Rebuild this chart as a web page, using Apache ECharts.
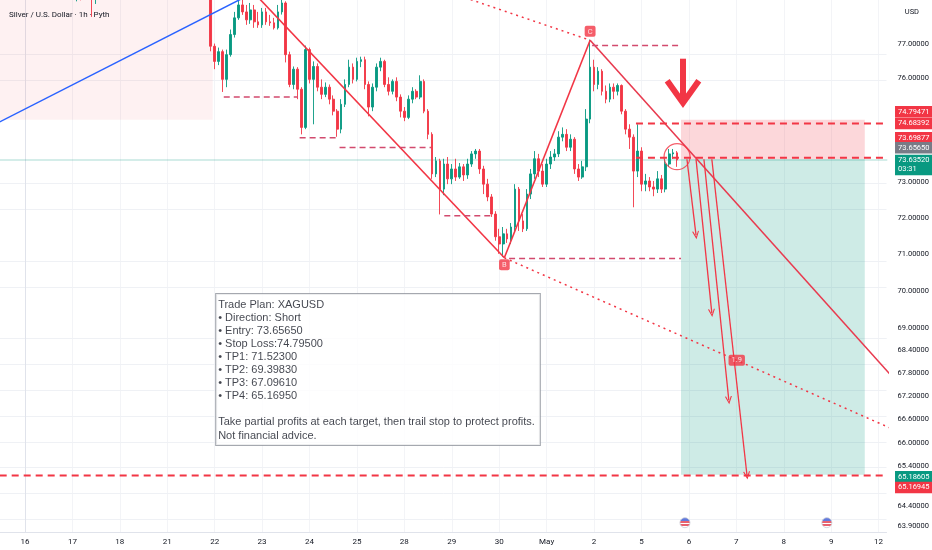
<!DOCTYPE html>
<html><head><meta charset="utf-8">
<script src="https://cdn.jsdelivr.net/npm/echarts@6/dist/echarts.min.js"></script>
<style>html,body{margin:0;padding:0;background:#fff}#c{width:932px;height:550px}</style>
</head><body><div id="c"></div>
<script>
// ---------- data ----------
const chartTitle = 'Silver / U.S. Dollar · 1h · Pyth';
const dayLabels = ['16','17','18','21','22','23','24','25','28','29','30','May','2','5','6','7','8','9','12'];
const slotsPerDay = 12;                 // 2-hour slots per trading day
const priceTicks = [77,76,73,72,71,70,69,68.4,67.8,67.2,66.6,66,65.4,64.4,63.9];

// candles [open, high, low, close]
const earlyStart = 12;
const earlyCandles = [
  [78.70,78.95,78.45,78.60],[78.40,78.85,78.30,78.70],[78.70,78.80,78.33,78.45],
  [78.45,78.90,78.42,78.75],[78.75,79.05,78.60,78.90],[78.90,79.00,77.83,78.50],
  [78.50,78.95,78.22,78.80],[78.80,78.95,78.36,78.60],[78.60,79.00,78.50,78.85]
];
const mainStart = 46;
const mainCandles = [
  [78.55,78.80,78.40,78.70],[78.65,78.75,76.80,76.95],[76.95,77.03,76.27,76.50],[76.50,76.91,76.39,76.79],
  [76.79,76.85,75.60,75.97],[75.97,76.85,75.74,76.70],[76.70,77.45,76.64,77.30],[77.30,77.98,77.21,77.80],
  [77.80,78.40,77.74,78.19],[78.19,78.45,77.89,77.98],[77.98,78.19,77.59,77.74],[77.74,78.25,77.62,78.04],
  [78.04,78.19,77.50,77.68],[77.68,77.98,77.50,77.59],[77.59,78.10,77.50,77.98],[77.98,78.10,77.59,77.68],
  [77.68,77.89,77.56,77.65],[77.65,77.80,77.45,77.50],[77.50,78.19,77.45,77.98],[77.98,78.43,77.90,78.25],
  [78.25,78.30,76.47,76.70],[76.70,76.79,75.74,75.82],[75.82,76.35,75.68,76.27],[76.27,76.33,75.39,75.68],
  [75.68,75.74,74.37,74.57],[74.57,76.97,74.52,76.85],[76.85,76.91,75.85,75.97],[75.97,76.50,74.66,76.35],
  [76.35,76.44,75.62,75.74],[75.74,75.97,75.39,75.53],[75.53,75.88,75.45,75.74],[75.74,75.82,75.24,75.39],
  [75.39,75.50,74.92,75.04],[75.04,75.10,74.30,74.52],[74.52,75.39,74.40,75.24],[75.24,75.97,75.16,75.82],
  [75.82,76.55,75.74,76.33],[76.33,76.44,75.85,75.97],[75.97,76.61,75.91,76.50],[76.50,76.64,76.33,76.55],
  [76.55,76.64,75.68,75.82],[75.82,75.91,74.89,75.16],[75.16,75.85,75.04,75.74],[75.74,76.44,75.62,76.33],
  [76.33,76.61,76.21,76.50],[76.50,76.55,75.74,75.82],[75.82,76.03,75.50,75.62],[75.62,75.97,75.53,75.91],
  [75.91,76.03,75.33,75.45],[75.45,75.53,74.86,75.04],[75.04,75.16,74.75,74.86],[74.86,75.50,74.81,75.39],
  [75.39,75.74,75.27,75.62],[75.62,75.68,75.39,75.45],[75.45,76.09,75.39,75.91],[75.91,75.97,74.98,75.04],
  [75.04,75.10,74.23,74.37],[74.37,74.43,73.10,73.24],[73.24,73.72,73.15,73.61],[73.61,73.67,72.10,72.81],
  [72.81,73.67,72.64,73.52],[73.52,73.72,72.95,73.10],[73.10,73.52,72.95,73.38],[73.38,73.67,73.04,73.15],
  [73.15,73.55,73.10,73.44],[73.44,73.52,73.04,73.21],[73.21,73.67,73.10,73.52],[73.52,73.89,73.44,73.81],
  [73.81,73.95,73.67,73.89],[73.89,73.95,73.24,73.38],[73.38,73.47,72.67,72.95],[72.95,73.10,72.47,72.59],
  [72.59,72.67,72.03,72.11],[72.11,72.19,71.37,71.48],[71.48,71.70,71.01,71.28],[71.28,71.75,70.92,71.56],
  [71.56,71.70,71.31,71.42],[71.42,71.86,71.28,71.75],[71.75,72.95,71.64,72.81],[72.81,72.87,71.64,71.92],
  [71.92,72.11,71.61,71.70],[71.70,72.81,71.64,72.67],[72.67,73.38,72.53,73.24],[73.24,73.89,73.10,73.67],
  [73.67,73.81,73.15,73.32],[73.32,73.52,72.87,72.95],[72.95,73.67,72.87,73.52],[73.52,73.89,73.38,73.72],
  [73.72,73.95,73.61,73.81],[73.81,74.46,73.72,74.29],[74.29,74.57,74.17,74.37],[74.37,74.52,73.89,74.00],
  [74.00,74.37,73.89,74.23],[74.23,74.29,73.24,73.38],[73.38,73.52,73.04,73.15],[73.15,73.61,73.10,73.44],
  [73.44,75.10,73.32,74.81],[74.81,77.15,74.69,76.33],[76.33,76.55,75.62,75.82],[75.82,76.33,75.68,76.21],
  [76.21,76.27,75.50,75.62],[75.62,75.79,75.27,75.39],[75.39,75.85,75.30,75.74],[75.74,75.85,75.39,75.62],
  [75.62,75.85,75.50,75.79],[75.79,75.82,74.95,75.04],[75.04,75.10,74.37,74.52],[74.52,74.66,73.95,74.29],
  [74.29,74.37,72.30,73.32],[73.32,74.66,73.15,73.89],[73.89,74.00,72.75,72.95],[72.95,73.24,72.75,73.04],
  [73.04,73.15,72.75,72.87],[72.87,73.04,72.61,72.81],[72.81,73.32,72.70,73.10],[73.10,73.21,72.70,72.81],
  [72.81,73.67,72.72,73.52],[73.52,73.95,73.44,73.81],[73.81,73.95,73.67,73.84],[73.84,73.89,73.44,73.635]
];

// drawings, points as [slot, price]
const blueLine   = [[-7.6,74.66],[56.8,78.50]];
const channelAB  = [[57.2,78.65],[121.3,70.90]];
const legBC      = [[121.3,70.90],[143.0,77.13]];
const legCD      = [[143.0,77.13],[219.8,67.67]];
const dottedTop  = [[109.9,78.47],[143.0,77.13]];
const dottedB    = [[121.3,70.90],[228.3,65.96]];
const pivotLevels = [ // [price, fromSlot, toSlot]
  [76.97,143.5,166.0],[75.45,50.3,69.0],[74.27,69.5,79.6],[73.99,79.6,102.8],
  [72.06,106.1,118.7],[70.88,122.5,166.0]
];
const tradeLevels = [[74.68392,154.6,218.2],[73.69877,154.6,218.2],[65.16945,-6.4,218.2]];
const position = {from:166.0, to:212.5, entry:73.6565, stop:74.79471, target:65.18605};
const oldZone  = {from:-7, to:47.5, low:74.79471, high:79.5};
const lastPrice = 73.6352;
const tpArrows = [ // [startSlot, endSlot, targetPrice]
  [167.5,169.8,71.523],[169.8,173.8,69.3983],[171.8,178.1,67.0961],[173.8,182.7,65.1695]
];
const bigArrowShaft = [[166.5,76.58],[166.5,75.40]];
const bigArrowHead  = [[162.5,75.93],[166.5,75.28],[170.5,75.93]];
const entryCircle = [165.0,73.73];
const pointC = [143.0,77.13], pointB = [121.3,70.90];
const ratioLabel = {pos:[180.1,68.14], text:'1.9'};
const flags = [[167.0,63.99],[202.9,63.99]];
const priceTags = [ // [price, text, colour, dy]
  [74.79471,'74.79471','#f23645',-8],
  [74.68392,'74.68392','#f23645',0],
  [73.69877,'73.69877','#f23645',-20],
  [73.65650,'73.65650','#787b86',-11.5],
  [73.63520,'73.63520\n03:31','#089981',5],
  [65.18605,'65.18605','#089981',2],
  [65.16945,'65.16945','#f23645',12]
];
const planAnchor = [48.5,69.90];
const planLines = ['Trade Plan: XAGUSD','• Direction: Short','• Entry: 73.65650','• Stop Loss:74.79500',
  '• TP1: 71.52300','• TP2: 69.39830','• TP3: 67.09610','• TP4: 65.16950','',
  'Take partial profits at each target, then trail stop to protect profits.','Not financial advice.'];

// ---------- build ----------
const L = Math.log;
const RED = '#f23645', GREEN = '#089981', PIVOT = '#d24a6e';
const pt = p => [p[0], L(p[1])];
const candleData = [];
earlyCandles.forEach((c,i)=>candleData.push([earlyStart+i, L(c[0]), L(c[3]), L(c[2]), L(c[1])]));
mainCandles.forEach((c,i)=>candleData.push([mainStart+i, L(c[0]), L(c[3]), L(c[2]), L(c[1])]));

function line(pts, color, width, type, extra){
  return Object.assign({type:'line', data: pts.map(pt), symbol:'none', silent:true, animation:false,
    lineStyle:{color, width, type: type||'solid'}, z:4}, extra||{});
}
const chevron = 'path://M0,10L5,0L10,10L8.4,10L5,3.2L1.6,10Z';

const series = [];
// grid lines
series.push({
  type:'line', data:[[0, L(70)]], symbol:'none', lineStyle:{opacity:0}, silent:true, z:0, animation:false,
  markLine:{silent:true, symbol:'none', animation:false, label:{show:false}, z:0,
    data:[
      ...dayLabels.map((_,i)=>({xAxis:i*slotsPerDay, lineStyle:{color:'#f3f4f7', width:1, type:'solid'}})),
      ...priceTicks.map(p=>({yAxis:L(p), lineStyle:{color:'#eff1f5', width:1, type:'solid'}}))
    ]}
});
// zones
series.push({
  type:'line', data:[[0, L(70)]], symbol:'none', lineStyle:{opacity:0}, silent:true, z:1, animation:false,
  markArea:{silent:true, z:1, data:[
    [{coord:[oldZone.from, L(oldZone.low)], itemStyle:{color:'rgba(242,54,69,0.07)'}}, {coord:[oldZone.to, L(oldZone.high)]}],
    [{coord:[position.from, L(position.entry)], itemStyle:{color:'rgba(242,54,69,0.2)'}}, {coord:[position.to, L(position.stop)]}],
    [{coord:[position.from, L(position.target)], itemStyle:{color:'rgba(8,153,129,0.2)'}}, {coord:[position.to, L(position.entry)]}]
  ]}
});
// last price line
series.push(line([[-6.4,lastPrice],[218.2,lastPrice]], 'rgba(8,153,129,0.35)', 1, 'solid', {z:1.5}));
series.push({
  type:'candlestick', data:candleData, encode:{x:0, y:[1,2,3,4]}, barWidth:2.2, z:2, animation:false, silent:true,
  itemStyle:{color:GREEN, color0:RED, borderColor:GREEN, borderColor0:RED, borderWidth:0.9}
});
series.push(line(blueLine, '#2962ff', 1.5));
series.push(line(channelAB, RED, 1.6));
series.push(line(legBC, RED, 1.6));
series.push(line(legCD, '#e83a4f', 1.6));
series.push(line(dottedTop, RED, 1.5, [2,4]));
series.push(line(dottedB, RED, 1.5, [2,4], {clip:false}));
pivotLevels.forEach(l=>series.push(line([[l[1],l[0]],[l[2],l[0]]], PIVOT, 1.5, [6,4])));
tradeLevels.forEach(l=>series.push(line([[l[1],l[0]],[l[2],l[0]]], RED, 2, [7,5])));
series.push(line(bigArrowShaft, RED, 6, 'solid', {z:6}));
series.push(line(bigArrowHead, RED, 6, 'solid', {z:6, lineStyle:{color:RED, width:6, join:'miter', cap:'butt'}}));
// projection arrows
series.push({
  type:'line', data:[[0,L(70)]], symbol:'none', lineStyle:{opacity:0}, silent:true, z:5, animation:false,
  markLine:{silent:true, animation:false, symbol:['none', chevron], symbolSize:[7,8], label:{show:false},
    lineStyle:{color:RED, width:1.3, type:'solid'},
    data: tpArrows.map(a=>[{coord:[a[0], L(position.entry)]},{coord:[a[1], L(a[2])]}])}
});
// circle
series.push({type:'scatter', data:[pt(entryCircle)], symbol:'circle', symbolSize:26, silent:true, z:6, animation:false,
  itemStyle:{color:'rgba(0,0,0,0)', borderColor:RED, borderWidth:1.2}});
// point labels
const tagLabel = {show:true, color:'#fff', backgroundColor:RED, borderRadius:2, padding:[2,3,1,3], fontSize:7.5, fontFamily:'Roboto'};
series.push({type:'scatter', silent:true, z:7, animation:false, symbolSize:1, itemStyle:{color:'rgba(0,0,0,0)'},
  data:[
    {value:pt(pointC), label:Object.assign({}, tagLabel, {position:'top', distance:3, formatter:'C'})},
    {value:pt(pointB), label:Object.assign({}, tagLabel, {position:'bottom', distance:1, formatter:'B'})},
    {value:pt(ratioLabel.pos), label:Object.assign({}, tagLabel, {position:'inside', formatter:ratioLabel.text})}
  ]});
// flags
series.push({type:'scatter', silent:true, z:7, animation:false, symbol:'circle', symbolSize:10, data:flags.map(pt),
  itemStyle:{borderColor:'#c9ccd4', borderWidth:1,
    color:new echarts.graphic.LinearGradient(0,0,0,1,[
      {offset:0,color:'#3c5bd8'},{offset:0.35,color:'#3c5bd8'},{offset:0.35,color:'#e23b4b'},{offset:0.5,color:'#e23b4b'},
      {offset:0.5,color:'#ffffff'},{offset:0.65,color:'#ffffff'},{offset:0.65,color:'#e23b4b'},{offset:0.8,color:'#e23b4b'},
      {offset:0.8,color:'#ffffff'},{offset:1,color:'#ffffff'}])}});
// trade plan note
series.push({type:'scatter', silent:true, z:10, animation:false, symbolSize:1, itemStyle:{color:'rgba(0,0,0,0)'},
  data:[pt(planAnchor)],
  label:{show:true, position:[0,0], align:'left', verticalAlign:'top', formatter:planLines.join('\n'),
    backgroundColor:'#ffffff', borderColor:'#8f929b', borderWidth:1, padding:[4,5,3,2],
    fontSize:11, lineHeight:13.1, color:'#131722', fontFamily:'Liberation Sans'}});
// price tags on the axis
series.push({type:'line', data:[[0,L(70)]], symbol:'none', lineStyle:{opacity:0}, silent:true, z:8, animation:false,
  markPoint:{silent:true, animation:false, symbol:'rect', symbolSize:1, itemStyle:{color:'rgba(0,0,0,0)'},
    data: priceTags.map(t=>({coord:[218.0, L(t[0])],
      label:{show:true, position:'right', distance:0, offset:[8, t[3]], formatter:t[1],
        backgroundColor:t[2], color:'#fff', fontSize:7.5, lineHeight:9, padding:[1.5,3,1,3], align:'left', fontFamily:'Roboto'}}))}
});

const chart = echarts.init(document.getElementById('c'), null, {renderer:'canvas'});
chart.setOption({
  animation:false,
  backgroundColor:'#ffffff',
  title:{text:chartTitle, left:4, top:6, textStyle:{fontSize:8, fontWeight:'normal', color:'#131722', fontFamily:'Roboto'}},
  graphic:[{type:'text', right:13, top:8, style:{text:'USD', fontSize:7.5, fill:'#131722', fontFamily:'Roboto'}}],
  grid:{left:0, right:44, top:0, bottom:18, containLabel:false},
  xAxis:{type:'value', min:-6.32, max:218.0,
    axisLine:{show:true, onZero:false, lineStyle:{color:'#e0e3eb'}}, axisTick:{show:false}, splitLine:{show:false},
    axisLabel:{customValues: dayLabels.map((_,i)=>i*slotsPerDay), formatter:v=>dayLabels[Math.round(v/slotsPerDay)],
      fontSize:8, color:'#131722', margin:6, fontFamily:'Roboto'}},
  yAxis:{type:'value', position:'right', min:L(63.76), max:L(78.34), scale:true,
    axisLine:{show:true, lineStyle:{color:'#e0e3eb'}}, axisTick:{show:false}, splitLine:{show:false},
    axisLabel:{customValues: priceTicks.map(L), formatter:v=>Math.exp(v).toFixed(5),
      fontSize:7.5, color:'#131722', margin:11, fontFamily:'Roboto'}},
  series
});
</script>
</body></html>
